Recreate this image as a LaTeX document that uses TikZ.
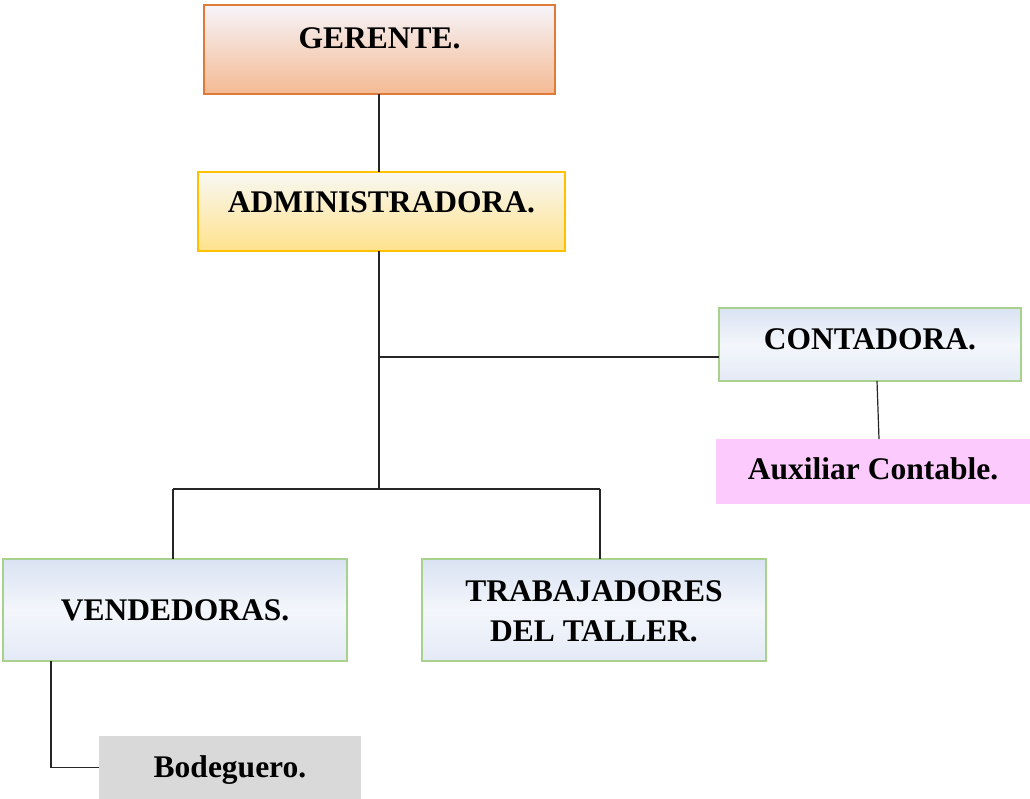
\documentclass[tikz,border=0pt]{standalone}
\usepackage{fontspec}
\setmainfont{Liberation Serif}
\definecolor{gerB}{HTML}{DE7A3A}
\definecolor{gerT}{HTML}{F6F4FA}
\definecolor{gerBot}{HTML}{F4BA93}
\definecolor{admB}{HTML}{FFC000}
\definecolor{admT}{HTML}{F8F8F3}
\definecolor{admBot}{HTML}{FFE28C}
\definecolor{bluT}{HTML}{DAE3F3}
\definecolor{bluM}{HTML}{F3F6FB}
\definecolor{bluB}{HTML}{E4EAF6}
\definecolor{grnB}{HTML}{A9D18E}
\definecolor{pinkF}{HTML}{FCCAFC}
\definecolor{grayF}{HTML}{D9D9D9}
\begin{document}
\begin{tikzpicture}[x=1pt,y=-1pt,
  box/.style={inner sep=0pt, outer sep=0pt, line width=1.2pt,
    font=\fontsize{31.5}{40}\selectfont\bfseries, text height=21pt},
  gerbox/.style={box, draw=gerB, top color=gerT, bottom color=gerBot},
  admbox/.style={box, draw=admB, top color=admT, bottom color=admBot},
  blubox/.style={box, draw=grnB, top color=bluT, bottom color=bluB, middle color=bluM},
  pinkbox/.style={box, fill=pinkF},
  graybox/.style={box, fill=grayF},
  conn/.style={line width=1.2pt, draw=black!85}]
\useasboundingbox (0,0) rectangle (1030,799);

\node[gerbox, minimum width=351pt, minimum height=89pt, text depth=22pt] (ger) at (379.5,49.5) {GERENTE.};
\node[admbox, minimum width=367pt, minimum height=79pt, text depth=18pt] (adm) at (381.5,211.5) {ADMINISTRADORA.};
\node[blubox, minimum width=302pt, minimum height=73pt, text depth=12pt] (cont) at (870,344.5) {CONTADORA.};
\node[pinkbox, minimum width=314pt, minimum height=65pt, text depth=5pt] (aux) at (873,471.5) {Auxiliar Contable.};
\node[blubox, minimum width=344pt, minimum height=102pt, text depth=0pt] (vend) at (175,610) {VENDEDORAS.};
\node[blubox, minimum width=344pt, minimum height=102pt, text height=62pt, text depth=0pt, align=center] (trab) at (594,610) {TRABAJADORES\\DEL TALLER.};
\node[graybox, minimum width=262pt, minimum height=63pt, text depth=1pt] (bod) at (230,767.5) {Bodeguero.};

\coordinate (j1) at (379,357);
\coordinate (j2) at (379,489);
\coordinate (bl) at (173,489);
\coordinate (br) at (600,489);

\draw[conn] (ger.south -| j1) -- (j1 |- adm.north);
\draw[conn] (j1 |- adm.south) -- (j2);
\draw[conn] (j1) -- (j1 -| cont.west);
\draw[conn] ([xshift=7pt]cont.south) -- ([xshift=6pt]aux.north);
\draw[conn] (bl) -- (br);
\draw[conn] (bl) -- (bl |- vend.north);
\draw[conn] (br) -- (br |- trab.north);
\draw[conn] ([xshift=48pt]vend.south west) |- (bod.west);
\end{tikzpicture}
\end{document}
